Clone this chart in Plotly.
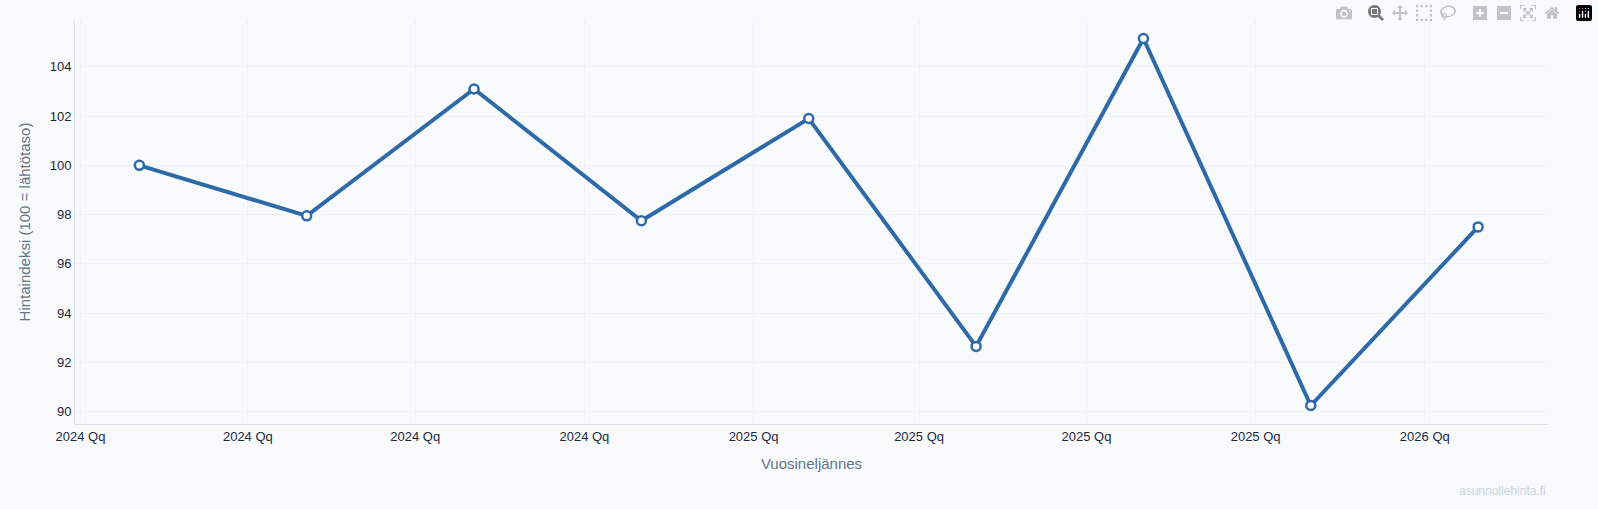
import plotly.graph_objects as go

quarters = ["2024-02-02", "2024-05-03", "2024-08-02", "2024-11-01", "2025-01-31",
            "2025-05-02", "2025-08-01", "2025-10-31", "2026-01-30"]
index_values = [100.0, 97.95, 103.1, 97.75, 101.9, 92.65, 105.15, 90.25, 97.5]

fig = go.Figure(go.Scatter(
    x=quarters, y=index_values, mode="lines+markers",
    line=dict(color="#2e6aa8", width=4),
    marker=dict(size=9, color="white", line=dict(color="#2e6aa8", width=2.5)),
    hovertemplate="%{x}<br>%{y:.1f}<extra></extra>",
))

fig.update_layout(
    width=1598, height=509,
    paper_bgcolor="#f8fafc", plot_bgcolor="#f8fafc",
    margin=dict(l=75, r=50, t=20, b=85),
    font=dict(family="Liberation Sans, Arial", size=13, color="#1e293b"),
    showlegend=False,
    xaxis=dict(
        title=dict(text="Vuosineljännes", font=dict(color="#64748b", size=15)),
        tickformat="%Y Qq", dtick="M3", tick0="2024-01-01",
        range=["2023-12-29", "2026-03-09"],
        showgrid=True, gridcolor="#f0f3f7",
        showline=True, linecolor="#dbe3ee", zeroline=False,
    ),
    yaxis=dict(
        title=dict(text="Hintaindeksi (100 = lähtötaso)", font=dict(color="#64748b", size=15)),
        range=[89.5, 105.9], dtick=2,
        showgrid=True, gridcolor="#f0f3f7",
        showline=True, linecolor="#dbe3ee", zeroline=False,
    ),
    annotations=[dict(
        text="asunnollehinta.fi", xref="paper", yref="paper",
        x=1.0, y=-0.165, xanchor="right", yanchor="middle", showarrow=False,
        font=dict(size=12, color="#cbd5e1"),
    )],
)

fig.write_html("out.html")

# remove the default page margin so the figure fills the window
with open("out.html", encoding="utf-8") as f:
    page = f.read()
page = page.replace("<head>", "<head><style>body{margin:0;background:#f8fafc;}</style>", 1)
with open("out.html", "w", encoding="utf-8") as f:
    f.write(page)
